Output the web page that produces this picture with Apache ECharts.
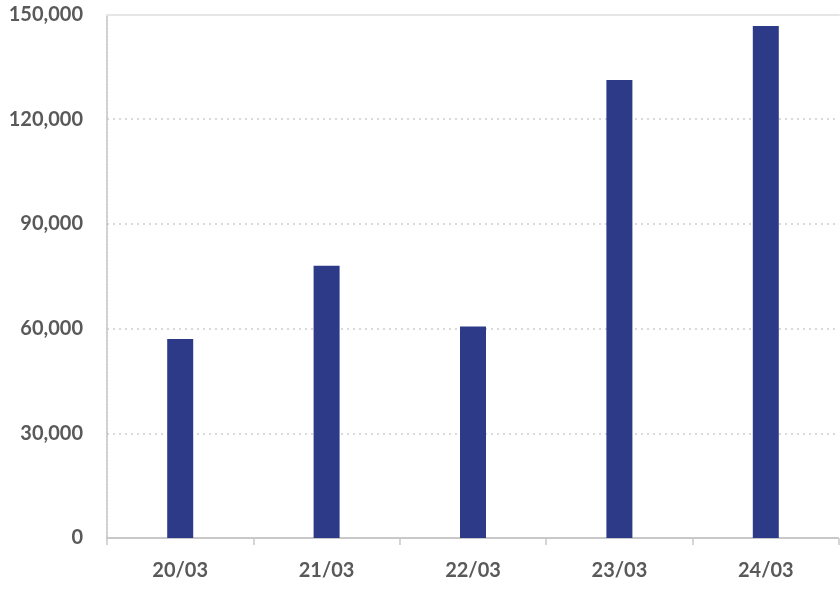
<!DOCTYPE html>
<html><head><meta charset="utf-8">
<script src="https://cdn.jsdelivr.net/npm/echarts@6/dist/echarts.min.js"></script>
<style>html,body{margin:0;padding:0;background:#fff}#c{width:840px;height:589px}</style>
</head><body><div id="c"></div>
<script>
const categories = ['20/03','21/03','22/03','23/03','24/03'];
const values = [57000, 78000, 60600, 131200, 146700];
const yTicks = [0, 30000, 60000, 90000, 120000, 150000];

const chart = echarts.init(document.getElementById('c'));
const font = 'Lato, "Liberation Sans", sans-serif';
chart.setOption({
  animation: false,
  grid: {left: 107, right: 1, top: 14.5, bottom: 51, containLabel: false},
  xAxis: [{
    type: 'category', data: categories, position: 'bottom',
    axisLine: {show: true, lineStyle: {color: '#c8c8c8', width: 2, type: [3, 1]}},
    axisTick: {show: true, alignWithLabel: false, length: 7, lineStyle: {color: '#c8c8c8', width: 1.5}},
    axisLabel: {color: '#595959', fontFamily: font, fontWeight: 'bold', fontSize: 20, margin: 23},
    splitLine: {show: false}
  }, {
    type: 'category', data: categories, position: 'top',
    axisLine: {show: true, lineStyle: {color: '#e6e6e6', width: 2}},
    axisTick: {show: false}, axisLabel: {show: false}
  }],
  yAxis: {
    type: 'value', min: yTicks[0], max: yTicks[yTicks.length - 1], interval: 30000,
    axisLine: {show: true, lineStyle: {color: '#bfbfbf', width: 1.5, type: [3, 1]}},
    axisTick: {show: false},
    axisLabel: {
      color: '#595959', fontFamily: font, fontWeight: 'bold', fontSize: 20, margin: 24,
      formatter: v => v.toLocaleString('en-US')
    },
    splitLine: {show: true, lineStyle: {color: '#d9d9d9', width: 2, type: [2, 4]}}
  },
  series: [{
    type: 'bar', data: values, barWidth: 26, xAxisIndex: 0,
    itemStyle: {color: '#2d3a87'}
  }]
});
</script></body></html>
